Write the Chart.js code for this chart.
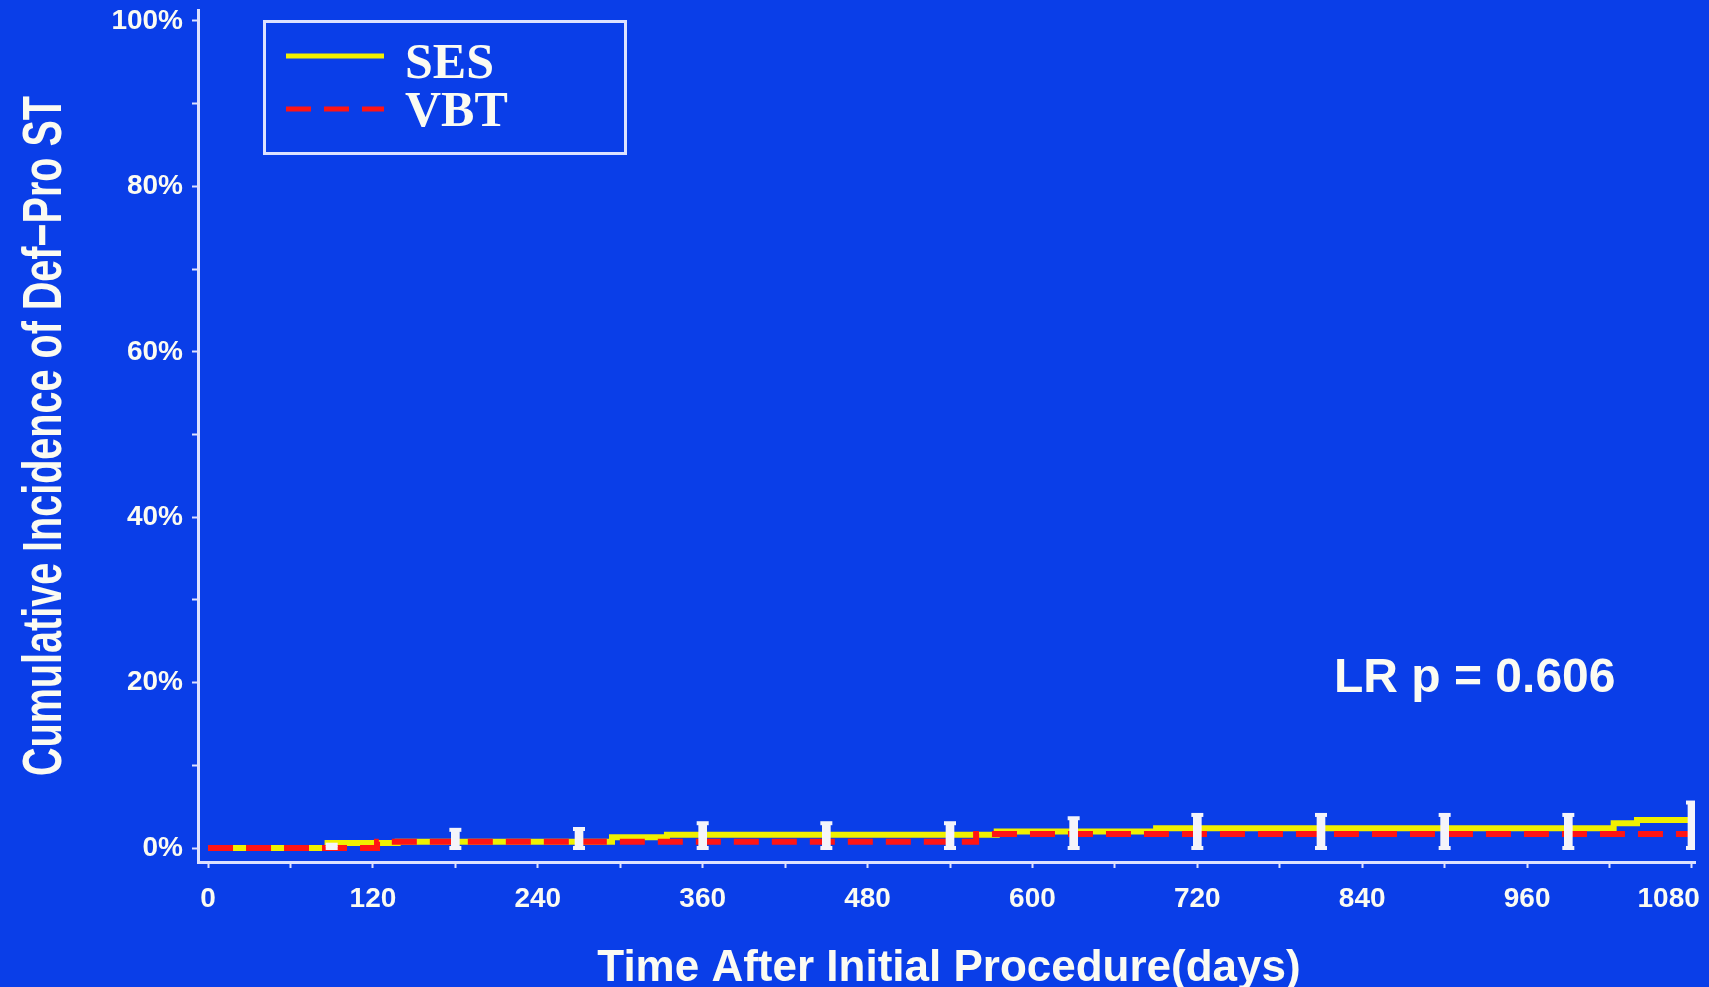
<!DOCTYPE html>
<html>
<head>
<meta charset="utf-8">
<script src="https://cdn.jsdelivr.net/npm/chart.js@4/dist/chart.umd.min.js"></script>
<style>
  html, body { margin: 0; padding: 0; background: #0a3ee8; }
  #wrap { width: 1709px; height: 987px; }
</style>
</head>
<body>
<div id="wrap"><canvas id="chart" width="1709" height="987"></canvas></div>
<script>
// Cumulative incidence (%) step points, by days after the initial procedure
const sesDays = [0, 87, 138, 294, 334, 574, 690, 1023, 1040, 1079];
const sesIncidence = [0, 0.6, 0.75, 1.3, 1.6, 2.0, 2.4, 3.0, 3.4, 3.4];
const vbtDays = [0, 123, 559, 1079];
const vbtIncidence = [0, 0.75, 1.7, 1.7];

// Confidence interval bars drawn every 90 days
const ciDays = [90, 180, 270, 360, 450, 540, 630, 720, 810, 900, 990, 1080];
const ciLower = [0, 0, 0, 0, 0, 0, 0, 0, 0, 0, 0, 0];
const ciUpper = [0.4, 2.2, 2.3, 3.0, 3.0, 3.0, 3.6, 4.0, 4.0, 4.0, 4.0, 5.5];

// Axis ticks: labelled and unlabelled marks
const xLabelTicks = [0, 120, 240, 360, 480, 600, 720, 840, 960, 1080];
const xMinorTicks = [60, 180, 300, 420, 540, 660, 780, 900, 1020];
const yLabelTicks = [0, 20, 40, 60, 80, 100];
const yMinorTicks = [10, 30, 50, 70, 90];

const seriesNames = ['SES', 'VBT'];
const xTitle = 'Time After Initial Procedure(days)';
const yTitle = 'Cumulative Incidence of Def\u2212Pro ST';
const pValueNote = 'LR p = 0.606';

const BG = '#0a3ee8';
const AXIS = '#dde1ff';
const TEXT = '#fbfbf2';
const SANS = '"Liberation Sans", Arial, sans-serif';
const SERIF = '"Liberation Serif", "Times New Roman", serif';

function pts(xs, ys) { return xs.map((x, i) => ({ x: x, y: ys[i] })); }

// keep the last day label inside the axis end
function xLabel(v) {
  if (!xLabelTicks.includes(v)) return '';
  const last = xLabelTicks[xLabelTicks.length - 1];
  return v === last ? String(v) + '\u00a0'.repeat(6) : String(v);
}

const decorations = {
  id: 'decorations',
  beforeDraw(chart) {
    const ctx = chart.ctx;
    ctx.save();
    ctx.fillStyle = BG;
    ctx.fillRect(0, 0, chart.width, chart.height);
    ctx.restore();
  },
  afterDraw(chart) {
    const ctx = chart.ctx;
    ctx.save();

    // legend frame
    ctx.strokeStyle = AXIS;
    ctx.lineWidth = 3;
    ctx.strokeRect(264.5, 21.5, 361, 132);

    const rows = [{ ds: 0, lineY: 56, textY: 78 }, { ds: 1, lineY: 109, textY: 126 }];
    rows.forEach(r => {
      const ds = chart.data.datasets[r.ds];
      ctx.beginPath();
      ctx.setLineDash(ds.borderDash || []);
      ctx.strokeStyle = ds.borderColor;
      ctx.lineWidth = 5;
      ctx.lineCap = 'butt';
      ctx.moveTo(286, r.lineY);
      ctx.lineTo(384, r.lineY);
      ctx.stroke();
      ctx.setLineDash([]);
      ctx.fillStyle = TEXT;
      ctx.font = 'bold 50px ' + SERIF;
      ctx.textAlign = 'left';
      ctx.textBaseline = 'alphabetic';
      ctx.fillText(ds.label, 405, r.textY);
    });

    // log-rank note
    ctx.fillStyle = TEXT;
    ctx.font = 'bold 48px ' + SANS;
    ctx.textAlign = 'left';
    ctx.textBaseline = 'alphabetic';
    ctx.fillText(pValueNote, 1334, 692);

    // x axis title
    ctx.font = 'bold 44px ' + SANS;
    ctx.textAlign = 'center';
    ctx.fillText(xTitle, 949, 981);

    // y axis title (tall, narrow lettering)
    ctx.font = 'bold 56px ' + SANS;
    const w = ctx.measureText(yTitle).width;
    ctx.translate(61, 436);
    ctx.rotate(-Math.PI / 2);
    ctx.scale(680 / w, 1);
    ctx.textAlign = 'center';
    ctx.fillText(yTitle, 0, 0);

    ctx.restore();
  }
};

const tickGrid = {
  drawOnChartArea: false,
  drawTicks: true,
  tickLength: 6,
  tickWidth: 2,
  tickColor: AXIS,
  offset: false
};

new Chart(document.getElementById('chart'), {
  type: 'line',
  data: {
    datasets: [
      {
        label: seriesNames[0],
        data: pts(sesDays, sesIncidence),
        borderColor: '#f0f000',
        borderWidth: 6,
        stepped: 'before',
        pointRadius: 0,
        fill: false,
        order: 3
      },
      {
        label: seriesNames[1],
        data: pts(vbtDays, vbtIncidence),
        borderColor: '#ff1414',
        borderWidth: 6,
        borderDash: [25, 13],
        stepped: 'before',
        pointRadius: 0,
        fill: false,
        order: 2
      },
      {
        type: 'bar',
        label: '',
        data: ciDays.map((d, i) => ({ x: d, y: [ciLower[i], ciUpper[i]] })),
        backgroundColor: '#f4f4fa',
        borderWidth: 0,
        barThickness: 8,
        order: 1
      },
      {
        type: 'line',
        label: '',
        data: ciDays.flatMap((d, i) => [{ x: d, y: ciLower[i] }, { x: d, y: ciUpper[i] }]),
        showLine: false,
        pointStyle: 'line',
        pointRadius: 6,
        pointBorderWidth: 4,
        pointBorderColor: '#f4f4fa',
        pointBackgroundColor: '#f4f4fa',
        order: 0
      }
    ]
  },
  options: {
    responsive: false,
    devicePixelRatio: 1,
    animation: false,
    events: [],
    layout: { padding: { left: 0, right: 14, top: 8, bottom: 0 } },
    plugins: {
      legend: { display: false },
      tooltip: { enabled: false },
      title: { display: false }
    },
    scales: {
      x: {
        type: 'linear',
        min: -7.3,
        max: 1082.2,
        offset: false,
        afterBuildTicks(scale) {
          scale.ticks = xLabelTicks.concat(xMinorTicks).sort((a, b) => a - b).map(v => ({ value: v }));
        },
        afterFit(scale) {
          scale.height = 125;
          scale.paddingLeft = 0;
          scale.paddingRight = 0;
        },
        ticks: {
          autoSkip: false,
          maxRotation: 0,
          padding: 14,
          color: TEXT,
          font: { family: SANS, size: 28, weight: 'bold' },
          callback: xLabel
        },
        grid: tickGrid,
        border: { display: true, color: AXIS, width: 3 },
        title: { display: false }
      },
      y: {
        type: 'linear',
        min: -1.69,
        max: 101.33,
        afterBuildTicks(scale) {
          scale.ticks = yLabelTicks.concat(yMinorTicks).sort((a, b) => a - b).map(v => ({ value: v }));
        },
        afterFit(scale) {
          scale.width = 198;
          scale.paddingTop = 0;
          scale.paddingBottom = 0;
        },
        ticks: {
          autoSkip: false,
          padding: 9,
          color: TEXT,
          font: { family: SANS, size: 28, weight: 'bold' },
          callback: v => (yLabelTicks.includes(v) ? v + '%' : '')
        },
        grid: tickGrid,
        border: { display: true, color: AXIS, width: 3 },
        title: { display: false }
      }
    }
  },
  plugins: [decorations]
});
</script>
</body>
</html>
